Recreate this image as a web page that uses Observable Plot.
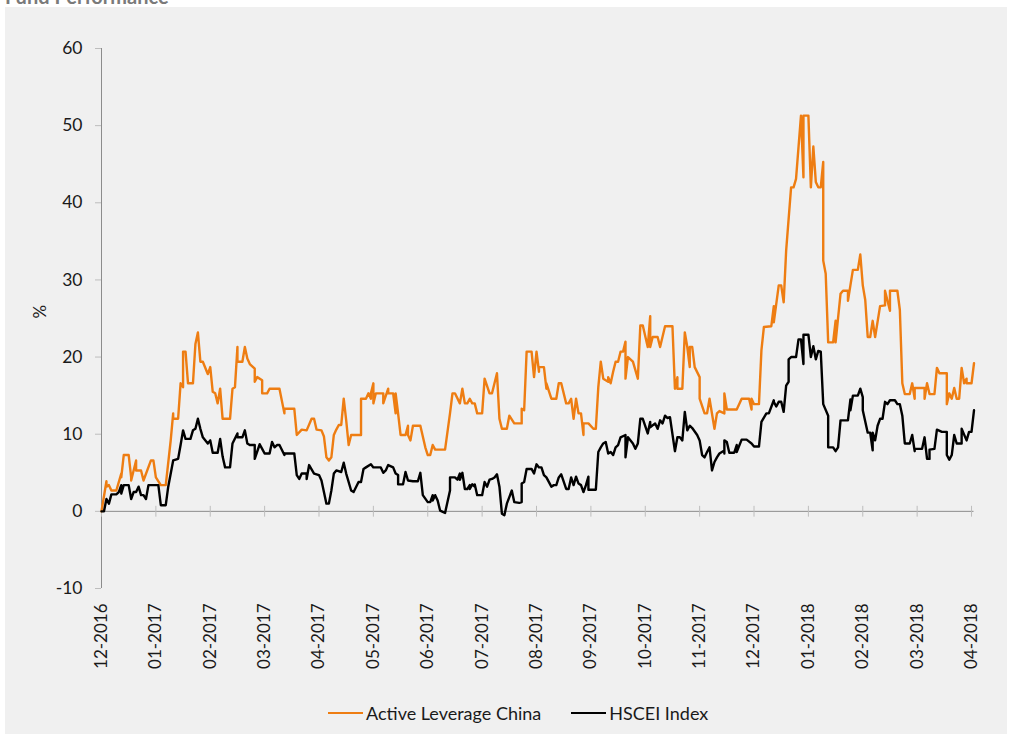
<!DOCTYPE html>
<html>
<head>
<meta charset="utf-8">
<script src="https://cdn.jsdelivr.net/npm/d3@7"></script>
<script src="https://cdn.jsdelivr.net/npm/@observablehq/plot@0.6"></script>
<style>
  html, body { margin: 0; padding: 0; background: #ffffff; width: 1010px; height: 734px; overflow: hidden; }
  #title { position: absolute; left: 5px; top: -14px; font: bold 20px/20px Lato, sans-serif; color: #7a7a7a; white-space: nowrap; }
  #panel { position: absolute; left: 5px; top: 7px; width: 1002px; height: 727px; background: #f0f0f0; }
  #chart { position: absolute; left: 0; top: 0; }
  #legend { position: absolute; left: 323px; top: 695px; display: flex; align-items: center; font: 18px Lato, sans-serif; color: #1a1a1a; white-space: nowrap; }
  .item { display: flex; align-items: center; margin-right: 30px; }
  .sw { width: 35px; height: 2.5px; margin-right: 3px; }
</style>
</head>
<body>
<div id="title">Fund Performance</div>
<div id="panel">
  <div id="chart"></div>
  <div id="legend"></div>
</div>
<script>
// X tick labels (one every 22 trading days)
const tickLabels = ["12-2016","01-2017","02-2017","03-2017","04-2017","05-2017","06-2017","07-2017","08-2017","09-2017","10-2017","11-2017","12-2017","01-2018","02-2018","03-2018","04-2018"];
const daysPerTick = 22;
const yTicks = [-10, 0, 10, 20, 30, 40, 50, 60];

const seriesNames = ["Active Leverage China", "HSCEI Index"];
const seriesColors = ["#ee7d12", "#000000"];

// Active Leverage China: trading-day index and cumulative performance (%)
const alcDay = [0,2,2,3,4,6,8,8,9,11,12,12,14,14,16,17,20,21,22,24,26,28,29,29,31,32,33,33,34,35,37,38,39,40,41,43,44,45,46,47,48,49,52,53,54,55,55,57,58,59,60,62,62,63,65,65,67,68,72,74,74,78,79,81,83,85,86,87,89,90,91,92,93,94,95,96,97,98,99,100,101,105,105,107,108,109,109,110,110,111,114,114,116,116,118,119,119,120,121,123,124,124,125,126,129,131,132,133,134,135,139,141,142,143,145,146,147,148,149,150,151,152,154,155,157,158,160,161,162,164,165,167,170,170,171,172,174,175,176,177,177,179,180,180,182,184,185,186,188,189,190,191,192,193,194,195,195,197,199,200,201,202,203,205,205,206,207,208,209,210,211,212,212,213,215,217,218,219,221,222,222,223,225,226,228,231,232,233,233,235,236,237,238,238,239,240,242,242,244,245,246,248,249,250,252,252,253,257,259,262,263,263,264,266,267,268,271,272,272,274,275,276,277,279,280,281,283,284,284,286,287,288,289,290,291,292,292,293,294,296,297,297,299,300,302,302,303,304,306,307,308,309,310,311,312,313,315,317,317,319,319,322,323,324,325,327,328,329,329,333,333,334,335,337,338,339,342,342,343,344,345,346,347,348,349,350,350,352,353];
const alcPct = [0,3.9,3.2,3.4,2.7,2.7,4.9,4.4,7.3,7.3,4.4,4.0,6.6,5.3,5.3,4.0,6.6,6.6,4.4,3.4,3.4,9.2,12.7,12.0,12.0,16.6,16.1,20.7,20.7,16.6,16.6,21.7,23.2,19.4,19.4,17.8,18.7,15.5,15.3,14.0,15.9,12.0,12.0,15.9,16.1,21.3,19.4,19.4,21.3,19.8,19.1,18.5,16.8,17.4,17.0,15.3,15.3,15.9,15.9,12.7,13.3,13.3,9.9,10.6,10.5,12.0,12.0,10.6,10.5,9.7,7.0,6.6,7.0,9.9,10.6,11.2,11.2,14.6,11.8,8.6,9.9,9.9,14.6,14.6,15.3,14.6,15.3,16.6,14.0,15.3,15.3,14.0,15.9,15.3,15.3,12.7,15.3,12.7,9.9,9.9,11.1,9.9,9.2,11.1,11.1,8.3,7.3,7.3,8.6,8.0,8.0,12.7,15.3,15.3,14.0,15.9,14.0,14.0,14.6,14.0,14.0,12.7,12.7,17.2,15.3,15.3,17.9,12.0,10.7,10.7,12.4,11.4,11.4,13.3,13.1,20.7,20.7,17.4,20.7,18.1,18.7,18.7,15.9,16.6,14.6,14.6,16.6,16.6,14.0,14.0,14.6,12.0,14.6,12.7,12.7,9.9,11.4,11.4,10.7,10.7,16.1,19.4,17.2,16.8,17.4,16.6,18.1,19.4,19.4,20.7,20.7,22.0,17.2,20.0,19.4,17.2,24.1,24.1,21.3,25.3,21.3,22.6,22.6,21.3,24.0,24.0,15.9,17.4,15.9,15.9,23.2,21.3,18.7,21.3,21.3,18.7,17.4,14.6,12.7,12.7,14.6,10.7,12.7,13.0,12.7,15.3,13.2,13.2,14.6,14.6,13.2,14.6,13.9,13.9,20.9,23.9,24.0,26.6,24.5,29.3,29.3,27.1,33.8,42.0,42.0,43.1,51.3,43.3,51.3,51.3,42.0,47.3,42.7,42.0,42.0,45.3,32.5,30.8,21.9,21.9,24.7,21.9,28.2,28.6,28.6,27.3,29.3,31.3,31.3,33.3,29.3,27.4,22.6,22.6,24.7,22.6,26.6,26.7,28.6,26.0,28.6,28.6,26.1,16.6,15.2,15.2,16.6,14.6,16.0,16.0,14.6,16.6,15.2,15.2,18.6,17.9,17.9,13.9,15.3,14.6,16.0,14.6,14.6,18.6,16.6,17.2,16.6,16.6,19.2];

// HSCEI Index: trading-day index and cumulative performance (%)
const hsDay = [0,1,2,3,4,6,7,8,8,9,11,12,13,14,15,16,17,18,19,23,24,26,27,29,31,32,33,34,36,37,38,39,40,41,43,44,45,47,48,49,50,52,53,55,55,57,58,59,60,62,62,64,65,66,68,69,70,71,72,74,74,78,79,80,81,83,83,84,86,88,89,91,92,93,94,95,97,98,99,101,102,104,105,106,107,109,110,113,114,115,116,118,119,120,120,122,123,124,126,128,129,130,132,133,134,134,135,136,137,139,141,141,143,144,145,145,146,147,148,149,149,150,151,151,152,154,155,156,157,158,159,160,161,162,163,164,166,167,169,170,170,171,172,174,175,176,177,178,179,180,182,183,184,185,186,188,189,190,191,192,193,194,195,196,197,197,200,201,202,203,204,205,206,207,208,209,210,212,212,213,215,216,217,218,219,221,222,222,224,225,226,227,228,229,230,232,233,234,235,236,237,238,239,241,242,243,244,245,246,247,248,249,250,252,252,252,253,254,256,257,257,259,261,263,264,266,267,269,270,272,272,273,274,275,276,277,278,278,279,281,282,283,284,284,286,287,288,289,290,291,292,294,294,296,297,298,299,302,303,303,304,306,307,308,308,310,311,312,312,313,314,315,316,317,318,319,321,322,323,324,325,327,328,329,329,332,333,334,335,335,337,338,340,342,342,343,344,345,346,348,348,350,351,352,353];
const hsPct = [0,0,1.6,1.0,2.2,2.2,2.5,3.4,2.3,3.4,3.4,1.6,2.5,2.5,3.2,2.1,2.1,1.6,3.4,3.4,0.8,0.8,3.2,6.6,6.8,8.6,10.5,9.4,9.4,10.5,10.7,12.0,10.7,9.6,8.8,9.2,7.6,7.6,9.4,7.1,5.7,5.7,8.8,10.1,9.6,9.6,10.5,8.8,8.6,8.6,6.8,8.7,8.1,7.5,7.5,9.0,8.3,8.6,8.6,7.3,7.5,7.5,4.7,4.2,4.9,4.9,4.2,6.0,4.9,4.7,4.0,1.0,1.0,2.7,4.9,5.3,5.1,6.3,4.9,2.7,2.5,3.8,3.8,5.5,5.7,6.1,5.7,5.7,5.0,5.3,6.0,5.7,4.9,4.7,3.5,3.5,5.1,4.0,3.9,3.9,5.0,2.1,1.2,1.2,2.1,1.4,2.1,1.4,0.1,-0.2,2.7,4.4,4.4,4.1,4.9,4.1,5.0,2.9,2.9,3.4,2.9,3.5,3.2,3.5,2.1,2.1,3.8,3.2,4.1,4.2,4.4,4.8,3.2,-0.3,-0.5,1.0,2.7,1.2,1.1,1.2,3.6,3.8,5.5,5.5,4.9,6.1,5.7,5.7,4.7,4.4,3.2,3.4,3.4,4.4,4.8,2.9,2.9,4.4,3.4,4.5,3.6,3.4,2.5,3.4,4.5,2.8,2.8,7.7,8.3,8.8,9.0,7.5,7.7,7.3,8.3,8.6,9.6,9.9,7.0,9.6,8.8,8.1,8.8,12.0,12.0,10.1,11.6,10.9,11.4,10.7,11.8,11.4,12.4,12.1,12.2,7.8,9.6,9.6,9.2,12.9,10.5,11.1,10.8,9.9,9.2,7.3,7.0,7.7,8.3,5.3,6.4,7.0,7.5,7.9,7.5,9.2,9.0,7.6,7.6,8.6,7.7,9.3,9.3,8.8,8.4,8.4,11.6,12.7,12.7,14.4,14.2,13.6,14.2,14.2,12.9,16.3,16.8,19.7,20.0,20.0,22.3,22.3,19.1,22.9,22.9,20.0,21.4,19.7,20.8,20.7,13.9,12.4,8.3,8.3,7.8,8.3,11.8,11.8,14.5,13.1,15.0,15.0,15.9,14.8,13.1,10.2,10.2,7.9,10.2,9.2,11.1,12.0,12.0,14.2,13.9,14.4,14.4,13.9,13.9,12.4,8.8,8.8,9.9,7.8,8.1,8.1,9.6,6.8,6.8,8.0,8.1,10.6,10.3,10.3,7.3,6.7,7.3,9.9,8.8,8.8,10.7,9.2,10.3,10.3,13.1];

const alc = alcDay.map((d, i) => ({day: d, pct: alcPct[i]}));
const hs = hsDay.map((d, i) => ({day: d, pct: hsPct[i]}));
const tickDays = tickLabels.map((_, i) => i * daysPerTick);

const axisGray = "#8c8c8c";

const chart = Plot.plot({
  width: 1002,
  height: 670,
  marginLeft: 96,
  marginRight: 33.5,
  marginTop: 41,
  marginBottom: 89,
  style: {background: "transparent", fontFamily: "Lato, sans-serif", fontSize: "17.5px", color: "#1a1a1a"},
  x: {domain: [0, 353]},
  y: {domain: [-10, 60]},
  marks: [
    Plot.ruleX([0], {y1: -10, y2: 60, stroke: axisGray}),
    Plot.ruleY([0], {stroke: axisGray}),
    Plot.ruleX(tickDays, {y1: -0.75, y2: 0.65, stroke: "#bdbdbd"}),
    Plot.axisY({ticks: yTicks, tickFormat: d => String(d), tickSize: 6, tickPadding: 13, stroke: "#bdbdbd", label: null, fontSize: 17.5}),
    Plot.axisX({ticks: tickDays, tickFormat: d => tickLabels[Math.round(d / daysPerTick)], tickRotate: -90, tickSize: 0, tickPadding: 15, label: null, fontSize: 17}),
    Plot.text(["%"], {frameAnchor: "left", dx: -61, rotate: -90, fontSize: 17}),
    Plot.line(alc, {x: "day", y: "pct", stroke: seriesColors[0], strokeWidth: 2.4}),
    Plot.line(hs, {x: "day", y: "pct", stroke: seriesColors[1], strokeWidth: 2.4})
  ]
});
document.getElementById("chart").appendChild(chart);

const legend = document.getElementById("legend");
seriesNames.forEach((name, i) => {
  const item = document.createElement("div");
  item.className = "item";
  const sw = document.createElement("div");
  sw.className = "sw";
  sw.style.background = seriesColors[i];
  const label = document.createElement("span");
  label.textContent = name;
  item.appendChild(sw);
  item.appendChild(label);
  legend.appendChild(item);
});
</script>
</body>
</html>
